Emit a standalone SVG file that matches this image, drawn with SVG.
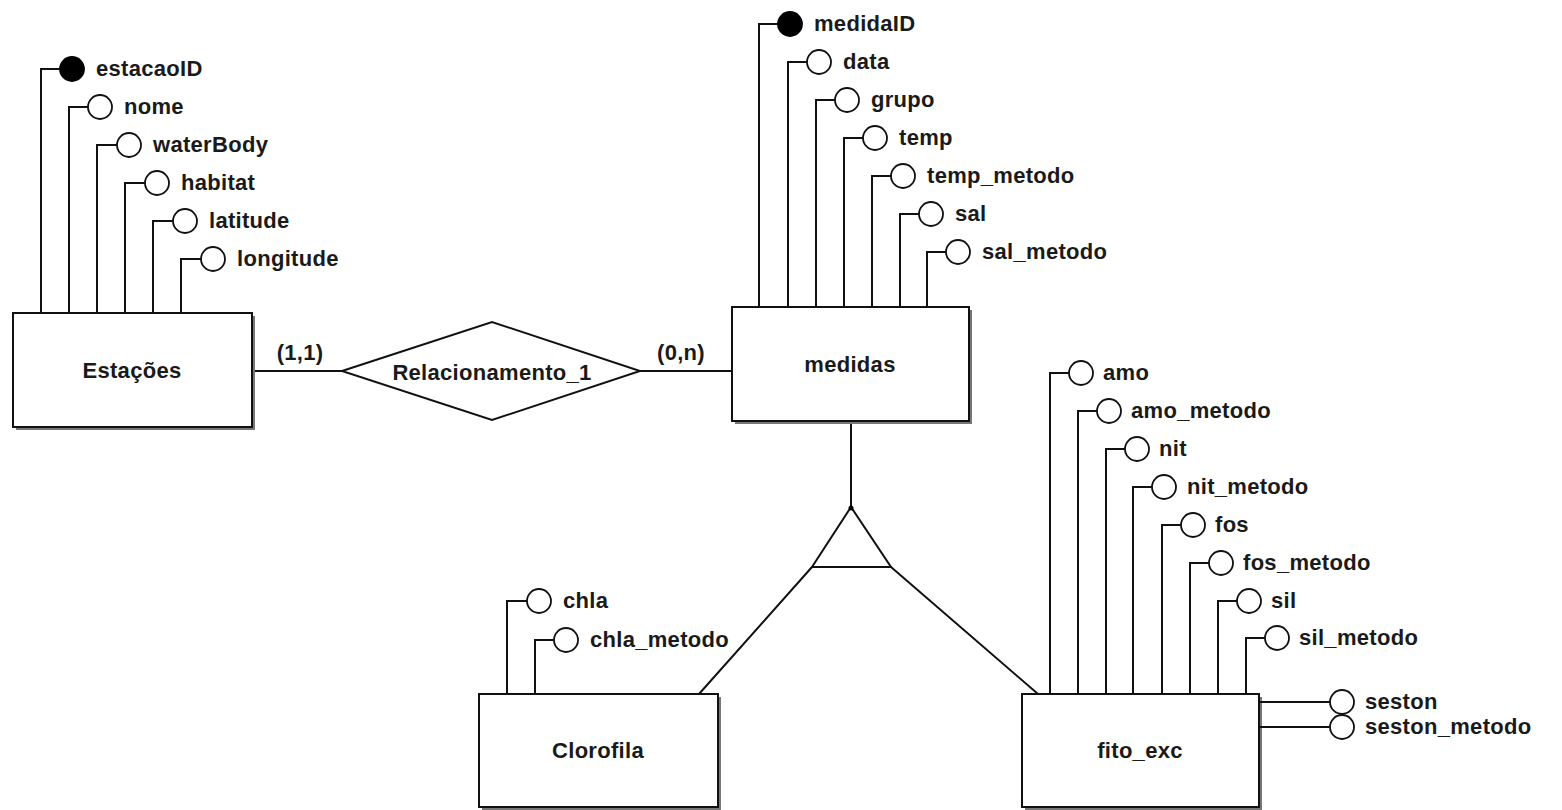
<svg xmlns="http://www.w3.org/2000/svg" width="1562" height="810" viewBox="0 0 1562 810">
<style>
.ln{fill:none;stroke:#111;stroke-width:2}
.ent{fill:#fff;stroke:#111;stroke-width:2}
.sh{fill:#777}
.att{fill:#fff;stroke:#111;stroke-width:1.8}
.key{fill:#000;stroke:#000;stroke-width:1.8}
text{font-family:"Liberation Sans",Arial,sans-serif;font-size:22px;font-weight:bold;fill:#1a1a1a;letter-spacing:0.3px}
.c{text-anchor:middle}
</style>
<rect width="1562" height="810" fill="#fff"/>
<g id="connectors">
<path class="ln" d="M252 371H342M640 371H732"/>
<path class="ln" d="M851 421V507"/>
<path class="ln" d="M812 567L699 694M891 567L1038 694"/>
</g>
<g id="Estacoes">
<rect class="sh" x="16" y="316" width="239" height="114"/>
<rect class="ent" x="13" y="313" width="239" height="114"/>
<text class="c" x="132" y="378">Estações</text>
<path class="ln" d="M41 313V69H60M69 313V107H88M97 313V145H117M125 313V183H145M153 313V221H173M181 313V259H201"/>
<circle class="key" cx="72" cy="69" r="12"/>
<circle class="att" cx="100" cy="107" r="12"/>
<circle class="att" cx="129" cy="145" r="12"/>
<circle class="att" cx="157" cy="183" r="12"/>
<circle class="att" cx="185" cy="221" r="12"/>
<circle class="att" cx="213" cy="259" r="12"/>
<text x="96" y="76">estacaoID</text>
<text x="124" y="114">nome</text>
<text x="153" y="152">waterBody</text>
<text x="181" y="190">habitat</text>
<text x="209" y="228">latitude</text>
<text x="237" y="266">longitude</text>
</g>
<g id="Relacionamento_1">
<polygon class="ent" points="342,371 492,322 640,371 492,420"/>
<text class="c" x="492" y="380">Relacionamento_1</text>
<text class="c" x="300" y="360">(1,1)</text>
<text class="c" x="681" y="360">(0,n)</text>
</g>
<g id="medidas">
<rect class="sh" x="735" y="310" width="237" height="114"/>
<rect class="ent" x="732" y="307" width="237" height="114"/>
<text class="c" x="850" y="372">medidas</text>
<path class="ln" d="M759 307V24H778M788 307V62H807M816 307V100H835M844 307V138H863M872 307V176H891M900 307V214H919M927 307V252H946"/>
<circle class="key" cx="790" cy="24" r="12"/>
<circle class="att" cx="819" cy="62" r="12"/>
<circle class="att" cx="847" cy="100" r="12"/>
<circle class="att" cx="875" cy="138" r="12"/>
<circle class="att" cx="903" cy="176" r="12"/>
<circle class="att" cx="931" cy="214" r="12"/>
<circle class="att" cx="958" cy="252" r="12"/>
<text x="814" y="31">medidaID</text>
<text x="843" y="69">data</text>
<text x="871" y="107">grupo</text>
<text x="899" y="145">temp</text>
<text x="927" y="183">temp_metodo</text>
<text x="955" y="221">sal</text>
<text x="982" y="259">sal_metodo</text>
</g>
<g id="especializacao">
<polygon class="ent" points="851,507 812,567 891,567"/>
<circle cx="851" cy="508" r="2.5" fill="#000"/>
</g>
<g id="Clorofila">
<rect class="sh" x="482" y="697" width="239" height="113"/>
<rect class="ent" x="479" y="694" width="239" height="113"/>
<text class="c" x="598" y="758">Clorofila</text>
<path class="ln" d="M507 694V601H527M535 694V640H554"/>
<circle class="att" cx="539" cy="601" r="12"/>
<circle class="att" cx="566" cy="640" r="12"/>
<text x="563" y="608">chla</text>
<text x="590" y="647">chla_metodo</text>
</g>
<g id="fito_exc">
<rect class="sh" x="1025" y="697" width="237" height="113"/>
<rect class="ent" x="1022" y="694" width="237" height="113"/>
<text class="c" x="1140" y="758">fito_exc</text>
<path class="ln" d="M1050 694V373H1069M1078 694V411H1097M1106 694V449H1125M1133 694V487H1152M1162 694V525H1181M1190 694V563H1209M1218 694V601H1237M1246 694V638H1265"/>
<circle class="att" cx="1081" cy="373" r="12"/>
<circle class="att" cx="1109" cy="411" r="12"/>
<circle class="att" cx="1137" cy="449" r="12"/>
<circle class="att" cx="1164" cy="487" r="12"/>
<circle class="att" cx="1193" cy="525" r="12"/>
<circle class="att" cx="1221" cy="563" r="12"/>
<circle class="att" cx="1249" cy="601" r="12"/>
<circle class="att" cx="1277" cy="638" r="12"/>
<text x="1103" y="380">amo</text>
<text x="1131" y="418">amo_metodo</text>
<text x="1159" y="456">nit</text>
<text x="1187" y="494">nit_metodo</text>
<text x="1215" y="532">fos</text>
<text x="1243" y="570">fos_metodo</text>
<text x="1271" y="608">sil</text>
<text x="1299" y="645">sil_metodo</text>
<path class="ln" d="M1259 702H1330M1259 727H1330"/>
<circle class="att" cx="1342" cy="702" r="12"/>
<circle class="att" cx="1342" cy="727" r="12"/>
<text x="1365" y="709">seston</text>
<text x="1365" y="734">seston_metodo</text>
</g>
</svg>
